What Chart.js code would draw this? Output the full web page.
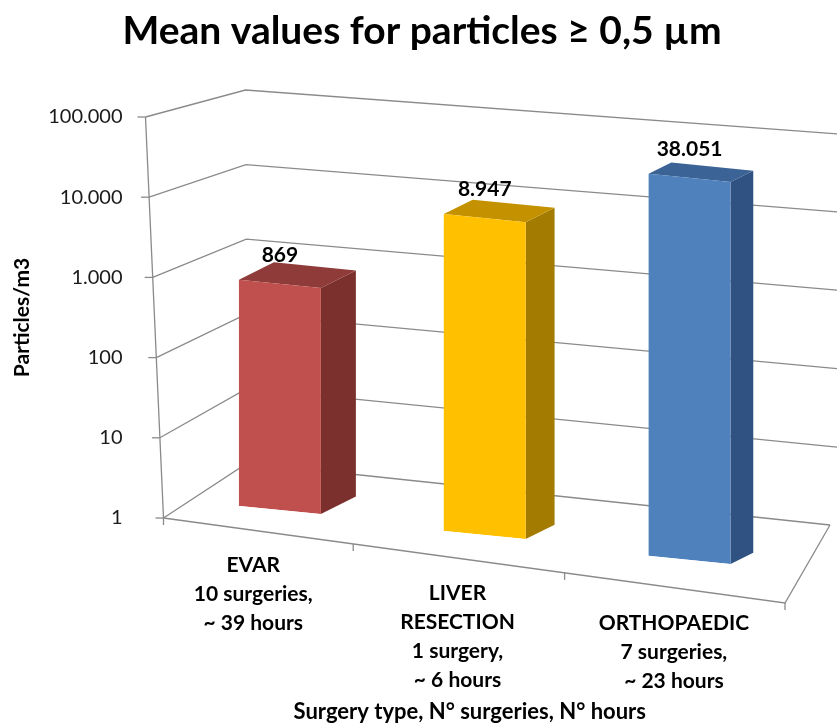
<!DOCTYPE html>
<html>
<head>
<meta charset="utf-8">
<script src="https://cdn.jsdelivr.net/npm/chart.js@4.4.1/dist/chart.umd.min.js"></script>
<style>
  html, body { margin: 0; padding: 0; background: #fff; }
  #wrap { width: 837px; height: 724px; position: relative; }
</style>
</head>
<body>
<div id="wrap"><canvas id="particlesChart"></canvas></div>
<script>
// chart data
const chartTitle = 'Mean values for particles \u2265 0,5 \u00b5m';
const categories = [
    ['EVAR', '10 surgeries,', '~ 39 hours'],
    ['LIVER', 'RESECTION', '1 surgery,', '~ 6 hours'],
    ['ORTHOPAEDIC', '7 surgeries,', '~ 23 hours']
];
const meanParticles = [869, 8947, 38051];
const tickValues = [1, 10, 100, 1000, 10000, 100000];

// styles
const frontColors = ['#C0504D', '#FFC000', '#4F81BD'];
const topColors = ['#8E3B39', '#C49200', '#3B6396'];
const sideColors = ['#7B302E', '#A27B00', '#2F5282'];
const FONT = 'Lato, "DejaVu Sans", sans-serif';

// European thousands separator (1.000)
function fmt(v) {
    return String(Math.round(v)).replace(/\B(?=(\d{3})+(?!\d))/g, '.');
}

// fake perspective for the bars: bars further right sit lower and look a bit taller
const shear = 0.1;
function barView(x) {
    return {
        scale: 0.959 + (x - 280) * 0.000198,
        offset: -8 + (x - 280) * 0.122
    };
}

function lerp(a, b, t) {
    return [a[0] + (b[0] - a[0]) * t, a[1] + (b[1] - a[1]) * t];
}

// box corners, relative to the chart area
function boxCorners(area) {
    return {
        frontBottom: [area.left - 14, area.bottom],
        frontTop: [area.left - 32, area.top],
        backBottom: [area.left + 70, area.bottom - 55],
        backTop: [area.left + 68, area.top - 27],
        rightBottom: [area.right + 38, area.bottom + 7],
        rightTop: [area.right + 88, area.top + 20],
        floorRight: [area.right - 7, area.bottom + 85]
    };
}

const box3d = {
    id: 'box3d',
    beforeDatasetsDraw(chart) {
        const { ctx, chartArea: area, scales: { x, y } } = chart;
        const c = boxCorners(area);
        const h = area.bottom - area.top;

        ctx.save();
        ctx.strokeStyle = '#8a8a8a';
        ctx.lineWidth = 1.3;

        // side wall + back wall grid lines
        tickValues.forEach(v => {
            const t = (area.bottom - y.getPixelForValue(v)) / h;
            const f = lerp(c.frontBottom, c.frontTop, t);
            const b = lerp(c.backBottom, c.backTop, t);
            const r = lerp(c.rightBottom, c.rightTop, t);
            ctx.beginPath();
            ctx.moveTo(f[0], f[1]);
            ctx.lineTo(b[0], b[1]);
            ctx.lineTo(r[0], r[1]);
            ctx.stroke();
            // tick mark on the value axis
            ctx.beginPath();
            ctx.moveTo(f[0] - 8, f[1]);
            ctx.lineTo(f[0], f[1]);
            ctx.stroke();
        });

        // value axis line
        ctx.beginPath();
        ctx.moveTo(c.frontBottom[0], c.frontBottom[1]);
        ctx.lineTo(c.frontTop[0], c.frontTop[1]);
        ctx.stroke();

        // floor front and right edges
        ctx.beginPath();
        ctx.moveTo(c.frontBottom[0], c.frontBottom[1]);
        ctx.lineTo(c.floorRight[0], c.floorRight[1]);
        ctx.lineTo(c.rightBottom[0], c.rightBottom[1]);
        ctx.stroke();

        // category ticks on the floor edge
        for (let i = 0; i <= categories.length; i++) {
            const px = x.getPixelForValue(i - 0.5);
            const u = Math.pow((px - area.left) / (area.right - area.left), 1.08);
            const p = lerp(c.frontBottom, c.floorRight, u);
            ctx.beginPath();
            ctx.moveTo(p[0], p[1]);
            ctx.lineTo(p[0], p[1] + 7);
            ctx.stroke();
        }
        ctx.restore();
    },
    beforeDatasetDraw(chart, args) {
        const { ctx, chartArea: area } = chart;
        const i = args.index;
        const bar = args.meta.data[i];
        const { x: bx, y: by, base, width } = bar.getProps(['x', 'y', 'base', 'width'], true);
        const v = barView(bx);
        const B = area.bottom;

        // y' = s*y + (1-s)*B + offset + shear*(x - bx)   (restored in afterDatasetDraw)
        ctx.save();
        ctx.transform(1, shear, 0, v.scale, 0, (1 - v.scale) * B + v.offset - shear * bx);

        const l = bx - width / 2;
        const r = bx + width / 2;
        const dx = 35 - 0.03 * (bx - 280);
        const dy = (-0.5 * dx - shear * dx) / v.scale;

        ctx.fillStyle = sideColors[i];
        ctx.beginPath();
        ctx.moveTo(r, by);
        ctx.lineTo(r + dx, by + dy);
        ctx.lineTo(r + dx, base + dy);
        ctx.lineTo(r, base);
        ctx.closePath();
        ctx.fill();

        ctx.fillStyle = topColors[i];
        ctx.beginPath();
        ctx.moveTo(l, by);
        ctx.lineTo(l + dx, by + dy);
        ctx.lineTo(r + dx, by + dy);
        ctx.lineTo(r, by);
        ctx.closePath();
        ctx.fill();
    },
    afterDatasetDraw(chart) {
        chart.ctx.restore();
    },
    afterDatasetsDraw(chart) {
        const { ctx, chartArea: area, scales: { x } } = chart;
        const c = boxCorners(area);
        ctx.save();
        ctx.fillStyle = '#000';
        ctx.textAlign = 'center';

        // main title (slightly right of the canvas centre, as in the original)
        ctx.font = 'bold 39px ' + FONT;
        ctx.textBaseline = 'middle';
        ctx.fillText(chartTitle, 422, 31);

        // value labels over the bars
        ctx.font = 'bold 21px ' + FONT;
        ctx.textBaseline = 'bottom';
        meanParticles.forEach((val, i) => {
            const bar = chart.getDatasetMeta(i).data[i];
            const { x: bx, y: by } = bar.getProps(['x', 'y'], true);
            const v = barView(bx);
            const ty = v.scale * by + (1 - v.scale) * area.bottom + v.offset - 18;
            ctx.fillText(fmt(val), bx, ty);
        });

        // category labels, following the floor edge
        ctx.font = 'bold 21px ' + FONT;
        ctx.textBaseline = 'middle';
        categories.forEach((lines, i) => {
            const px = x.getPixelForValue(i);
            const u = Math.pow((px - area.left) / (area.right - area.left), 1.08);
            const p = lerp(c.frontBottom, c.floorRight, u);
            lines.forEach((txt, j) => {
                ctx.fillText(txt, p[0], p[1] + 35 + j * 29);
            });
        });

        // category axis title
        ctx.font = 'bold 22px ' + FONT;
        ctx.fillText('Surgery type, N\u00b0 surgeries, N\u00b0 hours', (area.left + area.right) / 2 - 15, 712);
        ctx.restore();
    }
};

// one dataset per surgery type so every bar can get its own perspective
const datasets = meanParticles.map((val, i) => ({
    label: categories[i][0],
    data: meanParticles.map((v, j) => (j === i ? v : null)),
    backgroundColor: frontColors[i],
    borderWidth: 0,
    skipNull: true,
    categoryPercentage: 1,
    barPercentage: 0.4
}));

const ctx = document.getElementById('particlesChart').getContext('2d');

const particlesChart = new Chart(ctx, {
    type: 'bar',
    data: {
        labels: categories,
        datasets: datasets
    },
    options: {
        responsive: true,
        maintainAspectRatio: false,
        animation: false,
        layout: {
            padding: { left: 8, right: 45, top: 117, bottom: 206 }
        },
        scales: {
            x: {
                display: false
            },
            y: {
                type: 'logarithmic',
                min: 1,
                max: 100000,
                afterBuildTicks: scale => {
                    scale.ticks = tickValues.map(v => ({ value: v }));
                },
                afterFit: scale => {
                    scale.width = 169.5; // puts the plot's left edge at ~177
                },
                grid: { display: false, drawTicks: false },
                border: { display: false },
                ticks: {
                    padding: 55,
                    color: '#1a1a1a',
                    font: { family: FONT, size: 20 },
                    callback: value => fmt(value)
                },
                title: {
                    display: true,
                    text: 'Particles/m3',
                    color: '#000',
                    padding: { top: 2, bottom: 0 },
                    font: { family: FONT, size: 21, weight: 'bold' }
                }
            }
        },
        plugins: {
            legend: { display: false },
            tooltip: { enabled: false },
            title: { display: false }
        }
    },
    plugins: [box3d]
});
</script>
</body>
</html>
